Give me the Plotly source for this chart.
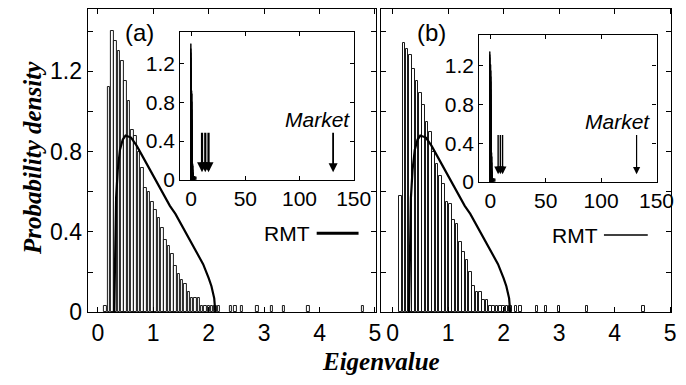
import plotly.graph_objects as go

# ---------------- data ----------------
eig_a = [0.14, 0.20, 0.26, 0.32, 0.38, 0.44, 0.50, 0.56, 0.62, 0.68, 0.74, 0.80,
         0.86, 0.92, 0.98, 1.04, 1.10, 1.16, 1.22, 1.28, 1.34, 1.40, 1.46, 1.52,
         1.58, 1.64, 1.70, 1.76, 1.82, 1.88, 1.94, 2.00, 2.06, 2.12,
         2.18, 2.40, 2.48, 2.60, 2.88, 3.14, 3.36, 3.80, 4.78]
dens_a = [0.03, 1.12, 1.40, 1.35, 1.30, 1.25, 1.15, 1.05, 0.91, 0.88, 0.80, 0.72,
          0.62, 0.60, 0.55, 0.51, 0.47, 0.42, 0.36, 0.33, 0.29, 0.23, 0.19, 0.16,
          0.14, 0.10, 0.07, 0.07, 0.07, 0.03, 0.03, 0.03, 0.03, 0.03,
          0.03, 0.03, 0.03, 0.03, 0.03, 0.03, 0.03, 0.03, 0.03]

eig_b = [0.14, 0.20, 0.26, 0.32, 0.38, 0.44, 0.50, 0.56, 0.62, 0.68, 0.74, 0.80,
         0.86, 0.92, 0.98, 1.04, 1.10, 1.16, 1.22, 1.28, 1.34, 1.40, 1.46, 1.52,
         1.58, 1.64, 1.70, 1.76, 1.82, 1.88, 1.94, 2.00, 2.06, 2.12,
         2.22, 2.30, 2.60, 2.76, 3.00, 3.50, 4.52]
dens_b = [0.58, 1.34, 1.31, 1.28, 1.21, 1.15, 1.09, 1.03, 0.95, 0.90, 0.80, 0.74,
          0.68, 0.64, 0.55, 0.54, 0.46, 0.44, 0.35, 0.30, 0.26, 0.20, 0.13, 0.10,
          0.10, 0.06, 0.06, 0.03, 0.03, 0.03, 0.03, 0.03, 0.03, 0.03,
          0.03, 0.03, 0.03, 0.03, 0.03, 0.03, 0.03]

rmt_x = [0.296, 0.31, 0.33, 0.36, 0.40, 0.45, 0.50, 0.60, 0.70, 0.80, 0.90, 1.00,
         1.10, 1.20, 1.30, 1.40, 1.50, 1.60, 1.70, 1.80, 1.90, 2.00, 2.05, 2.10, 2.12]
rmt_y = [0.0, 0.39, 0.57, 0.71, 0.81, 0.86, 0.88, 0.87, 0.83, 0.78, 0.73, 0.68,
         0.63, 0.58, 0.53, 0.49, 0.44, 0.39, 0.345, 0.29, 0.24, 0.17, 0.13, 0.07, 0.0]

deviating_a = [10, 13, 16]
deviating_b = [7, 9, 11]
market_a = 131
market_b = 132

x_ticks = [0, 1, 2, 3, 4, 5]
y_ticks = [0, 0.2, 0.4, 0.6, 0.8, 1.0, 1.2, 1.4]
y_ticktext = ["0", "", "0.4", "", "0.8", "", "1.2", ""]
inset_xticks = [0, 50, 100, 150]
inset_yticks = [0, 0.4, 0.8, 1.2]

W, H = 686, 385
def px(x): return x / W
def py(y): return (H - y) / H

SANS = "Liberation Sans, Arial, sans-serif"
SERIF = "Liberation Serif, Times New Roman, serif"

fig = go.Figure()

def add_hist(xs, ys, xa, ya, fill, lw, width):
    fig.add_trace(go.Bar(x=xs, y=ys, xaxis=xa, yaxis=ya, width=width,
                         marker=dict(color=fill, line=dict(color="black", width=lw)),
                         showlegend=False))

add_hist(eig_a, dens_a, "x", "y", "white", 0.9, 0.045)
add_hist(eig_b, dens_b, "x2", "y2", "white", 0.9, 0.045)
add_hist(eig_a, dens_a, "x3", "y3", "black", 1.0, 0.06)
add_hist(eig_b, dens_b, "x4", "y4", "black", 1.0, 0.06)

fig.add_trace(go.Scatter(x=rmt_x, y=rmt_y, xaxis="x", yaxis="y", mode="lines",
                         line=dict(color="black", width=2.2), showlegend=False))
fig.add_trace(go.Scatter(x=rmt_x, y=rmt_y, xaxis="x2", yaxis="y2", mode="lines",
                         line=dict(color="black", width=2.2), showlegend=False))

main_common = dict(showline=True, linecolor="black", linewidth=1.4, mirror="ticks",
                   ticks="inside", ticklen=5, tickcolor="black", zeroline=False,
                   showgrid=False)
inset_common = dict(showline=True, linecolor="black", linewidth=1.2, mirror="ticks",
                    ticks="inside", ticklen=4, tickcolor="black", zeroline=False,
                    showgrid=False)

fig.update_layout(
    width=W, height=H,
    margin=dict(l=0, r=0, t=0, b=0),
    paper_bgcolor="white", plot_bgcolor="white",
    bargap=0,
    xaxis=dict(domain=[px(82), px(378)], range=[-0.18, 5.02], anchor="y",
               tickvals=x_ticks, tickfont=dict(family=SANS, size=23, color="black"),
               **main_common),
    yaxis=dict(domain=[py(315), py(1)], range=[0, 1.51], anchor="x",
               tickvals=y_ticks, ticktext=y_ticktext,
               tickfont=dict(family=SANS, size=23, color="black"), **main_common),
    xaxis2=dict(domain=[px(383), px(681)], range=[-0.21, 5.02], anchor="y2",
                tickvals=x_ticks, tickfont=dict(family=SANS, size=23, color="black"),
                **main_common),
    yaxis2=dict(domain=[py(315), py(1)], range=[0, 1.51], anchor="x2",
                tickvals=y_ticks, ticktext=[""] * len(y_ticks), **main_common),
    xaxis3=dict(domain=[px(177), px(355)], range=[-10, 150], anchor="y3",
                tickvals=inset_xticks, tickfont=dict(family=SANS, size=21, color="black"),
                **inset_common),
    yaxis3=dict(domain=[py(178), py(25)], range=[0, 1.52], anchor="x3",
                tickvals=inset_yticks, ticktext=["0", "0.4", "0.8", "1.2"],
                tickfont=dict(family=SANS, size=21, color="black"), **inset_common),
    xaxis4=dict(domain=[px(484), px(666)], range=[-10, 150], anchor="y4",
                tickvals=inset_xticks, tickfont=dict(family=SANS, size=21, color="black"),
                **inset_common),
    yaxis4=dict(domain=[py(180), py(28)], range=[0, 1.52], anchor="x4",
                tickvals=inset_yticks, ticktext=["0", "0.4", "0.8", "1.2"],
                tickfont=dict(family=SANS, size=21, color="black"), **inset_common),
)

ann = []
def arrow(x, xa, ya, w, size):
    ann.append(dict(x=x, y=0.08, xref=xa, yref=ya, ax=x, ay=0.5,
                    axref=xa, ayref=ya, text="", showarrow=True, arrowhead=2,
                    arrowsize=size, arrowwidth=w, arrowcolor="black"))

for v in deviating_a:
    arrow(v, "x3", "y3", 2.2, 0.9)
arrow(market_a, "x3", "y3", 1.8, 1.0)
for v in deviating_b:
    arrow(v, "x4", "y4", 1.4, 1.1)
arrow(market_b, "x4", "y4", 1.2, 1.2)

def label(x, y, text, size, family=SANS, angle=0):
    ann.append(dict(x=x, y=y, xref="paper", yref="paper", text=text,
                    xanchor="center", yanchor="middle", textangle=angle,
                    showarrow=False, font=dict(family=family, size=size, color="black")))

label(px(318), py(115), "<i>Market</i>", 21)
label(px(626), py(117), "<i>Market</i>", 21)
label(px(135), py(25), "(a)", 24)
label(px(435), py(25), "(b)", 24)
label(px(287), py(233), "RMT", 21)
label(px(582), py(235), "RMT", 21)
label(px(25), py(155), "<b><i>Probability density</i></b>", 25, SERIF, -90)
label(px(383), py(366), "<b><i>Eigenvalue</i></b>", 25, SERIF)

fig.update_layout(annotations=ann)

fig.add_shape(type="line", xref="paper", yref="paper",
              x0=px(317), x1=px(360), y0=py(233), y1=py(233),
              line=dict(color="black", width=3))
fig.add_shape(type="line", xref="paper", yref="paper",
              x0=px(612), x1=px(657), y0=py(235), y1=py(235),
              line=dict(color="black", width=1.5))

fig.write_html("out.html")
